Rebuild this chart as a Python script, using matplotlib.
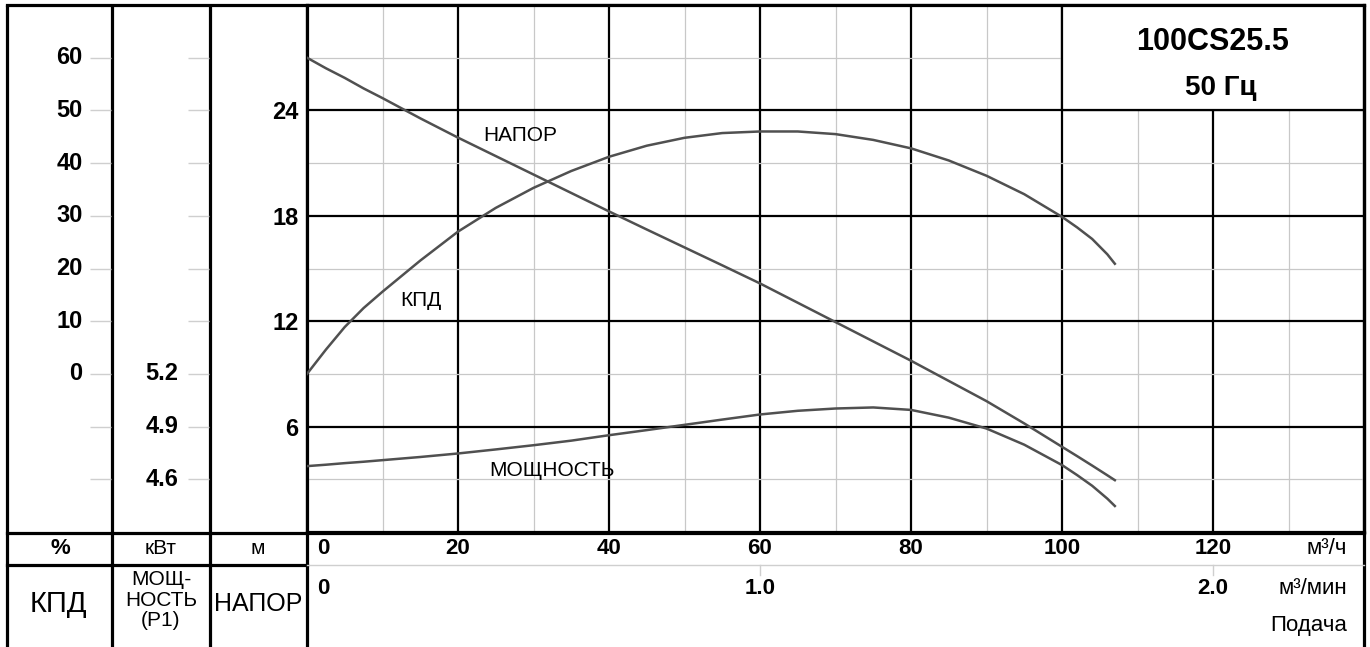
import matplotlib
matplotlib.use("Agg")
import matplotlib.pyplot as plt
from matplotlib import transforms
from matplotlib.patches import Rectangle

plt.rcParams["font.family"] = ["Liberation Sans", "DejaVu Sans"]

# data
flow = [0, 2.5, 5, 7.5, 10, 15, 20, 25, 30, 35, 40, 45, 50, 55, 60, 65, 70, 75, 80, 85, 90,
        95, 100, 102, 104, 106, 107]
head = [27.0, 26.4, 25.85, 25.25, 24.7, 23.55, 22.45, 21.4, 20.35, 19.3, 18.25, 17.22, 16.2,
        15.18, 14.15, 13.05, 11.95, 10.85, 9.75, 8.6, 7.45, 6.18, 4.85, 4.32, 3.78, 3.23, 2.95]
kpd = [0.0, 4.6, 8.9, 12.5, 15.6, 21.5, 27.0, 31.5, 35.3, 38.5, 41.2, 43.3, 44.8, 45.7, 46.0,
       46.0, 45.5, 44.4, 42.8, 40.5, 37.6, 34.1, 29.8, 27.8, 25.6, 22.7, 20.9]
power = [4.675, 4.683, 4.692, 4.70, 4.709, 4.727, 4.747, 4.77, 4.794, 4.82, 4.851, 4.88, 4.91,
         4.94, 4.969, 4.99, 5.003, 5.009, 4.995, 4.951, 4.889, 4.797, 4.681, 4.624, 4.563,
         4.49, 4.448]

flow_ticks_h = [0, 20, 40, 60, 80, 100, 120]
flow_ticks_min = [0, 60, 120]
flow_labels_min = ["0", "1.0", "2.0"]
head_ticks = [6, 12, 18, 24]
head_minor = [3, 9, 15, 21, 27]
kpd_marks = [-20, -10, 0, 10, 20, 30, 40, 50, 60]
kpd_labels = [0, 10, 20, 30, 40, 50, 60]
power_marks = [4.6, 4.9, 5.2, 5.5, 5.8, 6.1, 6.4, 6.7, 7.0]
power_labels = [4.6, 4.9, 5.2]

W, H = 1370, 647
fig = plt.figure(figsize=(W / 100, H / 100), dpi=100)

# background axes in pixel coords for the table frame
bg = fig.add_axes([0, 0, 1, 1], zorder=0)
bg.set_xlim(0, W)
bg.set_ylim(H, 0)
bg.axis("off")

FR = 2.3
for x in [7, 112, 210, 307, 1364]:
    bg.plot([x, x], [5, H], color="black", lw=FR, solid_capstyle="butt")
bg.plot([7, 1364], [5, 5], color="black", lw=FR)
bg.plot([7, 1364], [533, 533], color="black", lw=FR)
bg.plot([7, 307], [565, 565], color="black", lw=FR)
bg.plot([307, 1364], [565, 565], color="#cfcfcf", lw=1.0)


def fx(p):
    return p / W


def fy(p):
    return 1 - p / H


top_px, bot_px = 5, 532
rect_h = (bot_px - top_px) / H

# main chart
ax = fig.add_axes([fx(307), fy(bot_px), (1364 - 307) / W, rect_h], zorder=1)
ax.set_xlim(0, 140)
ax.set_ylim(0, 30)
ax.set_xticks(flow_ticks_h + [140])
ax.set_xticks(range(10, 140, 20), minor=True)
ax.set_yticks(head_ticks)
ax.set_yticks(head_minor, minor=True)
ax.set_axisbelow(True)
ax.grid(which="major", color="black", lw=1.6)
ax.grid(which="minor", color="#c8c8c8", lw=0.9)
ax.tick_params(which="both", length=0)
ax.tick_params(axis="x", labelbottom=False)
ax.tick_params(axis="y", pad=6, labelsize=17)
for lab in ax.get_yticklabels():
    lab.set_fontweight("bold")
for s in ax.spines.values():
    s.set_linewidth(FR)
    s.set_color("black")

curve_c = "#505050"
ax.plot(flow, head, color=curve_c, lw=1.8, zorder=3)

ax_k = ax.twinx()
ax_k.set_ylim(-30, 70)
ax_k.axis("off")
ax_k.plot(flow, kpd, color=curve_c, lw=1.8)

ax_p = ax.twinx()
ax_p.set_ylim(4.3, 7.3)
ax_p.axis("off")
ax_p.plot(flow, power, color=curve_c, lw=1.8)

ax.text(28.2, 22.55, "НАПОР", fontsize=15, ha="center", va="center", zorder=4)
ax.text(15.1, 13.2, "КПД", fontsize=15, ha="center", va="center", zorder=4)
ax.text(32.4, 3.5, "МОЩНОСТЬ", fontsize=15, ha="center", va="center", zorder=4)

# title box
ax.add_patch(Rectangle((100, 24), 40, 6, facecolor="white", edgecolor="black", lw=1.6, zorder=2))
ax.text(120, 27.9, "100CS25.5", fontsize=22, fontweight="bold",
        ha="center", va="center", zorder=4)
ax.text(121, 25.25, "50 Гц", fontsize=20, fontweight="bold",
        ha="center", va="center", zorder=4)

# flow labels under the chart
tr = transforms.blended_transform_factory(ax.transData, bg.transData)
shift = transforms.ScaledTranslation(10 / 100, 0, fig.dpi_scale_trans)
for q in flow_ticks_h:
    if q == 0:
        ax.text(q, 549, "0", transform=tr + shift, fontsize=16, fontweight="bold",
                ha="left", va="center", clip_on=False)
    else:
        ax.text(q, 549, str(q), transform=tr, fontsize=16, fontweight="bold",
                ha="center", va="center", clip_on=False)
for q, lab in zip(flow_ticks_min, flow_labels_min):
    if q == 0:
        ax.text(q, 589, lab, transform=tr + shift, fontsize=16, fontweight="bold",
                ha="left", va="center", clip_on=False)
    else:
        ax.text(q, 589, lab, transform=tr, fontsize=16, fontweight="bold",
                ha="center", va="center", clip_on=False)
        ax.plot([q, q], [565, 575], transform=tr, color="#cfcfcf", lw=1.0, clip_on=False)

bg.text(1347, 549, "м³/ч", fontsize=16, ha="right", va="center")
bg.text(1347, 589, "м³/мин", fontsize=16, ha="right", va="center")
bg.text(1347, 626, "Подача", fontsize=16, ha="right", va="center")

# left columns: КПД and power scales
ax_kc = fig.add_axes([fx(7), fy(bot_px), (112 - 7) / W, rect_h], zorder=1)
ax_kc.set_xlim(0, 1)
ax_kc.set_ylim(-30, 70)
ax_kc.axis("off")
ax_kc.hlines(kpd_marks, 0.79, 0.99, color="#cfcfcf", lw=1.0)
for v in kpd_labels:
    ax_kc.text(0.72, v, str(v), fontsize=17, fontweight="bold", ha="right", va="center")

ax_pc = fig.add_axes([fx(112), fy(bot_px), (210 - 112) / W, rect_h], zorder=1)
ax_pc.set_xlim(0, 1)
ax_pc.set_ylim(4.3, 7.3)
ax_pc.axis("off")
ax_pc.hlines(power_marks, 0.775, 0.99, color="#cfcfcf", lw=1.0)
for v in power_labels:
    ax_pc.text(0.68, v, f"{v:.1f}", fontsize=17, fontweight="bold", ha="right", va="center")

# bottom header cells
bg.text(60, 549, "%", fontsize=16, fontweight="bold", ha="center", va="center")
bg.text(161, 549, "кВт", fontsize=15, ha="center", va="center")
bg.text(258, 549, "м", fontsize=15, ha="center", va="center")
bg.text(58, 604, "КПД", fontsize=21, ha="center", va="center")
bg.text(258, 604, "НАПОР", fontsize=18, ha="center", va="center")
bg.text(161, 600, "МОЩ-\nНОСТЬ\n(Р1)", fontsize=15, ha="center", va="center",
        linespacing=1.08)

fig.savefig("out.png", dpi=100)
